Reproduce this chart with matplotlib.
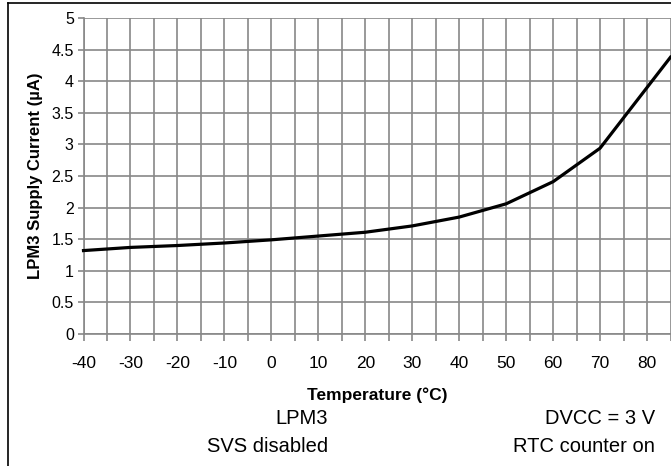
import matplotlib
matplotlib.use('Agg')
import matplotlib.pyplot as plt
from matplotlib.lines import Line2D

plt.rcParams['font.family'] = ['Liberation Sans', 'DejaVu Sans']
plt.rcParams['axes.unicode_minus'] = False

# LPM3 supply current vs temperature
temperature = [-40, -30, -20, -10, 0, 10, 20, 30, 40, 50, 60, 70, 85]
current_ua = [1.32, 1.37, 1.40, 1.44, 1.49, 1.55, 1.61, 1.71, 1.85, 2.06, 2.41, 2.94, 4.38]

x_ticks = list(range(-40, 81, 10))
y_ticks = [0, 0.5, 1, 1.5, 2, 2.5, 3, 3.5, 4, 4.5, 5]
y_labels = ['0', '0.5', '1', '1.5', '2', '2.5', '3', '3.5', '4', '4.5', '5']

W, H = 671, 466
fig = plt.figure(figsize=(W / 100, H / 100), dpi=100)
ax = fig.add_axes([83.5 / W, 132 / H, 587 / W, 316 / H])

# grid every 5 degC, label every 10
ax.set_xlim(-40, 85)
ax.set_ylim(0, 5)
ax.set_xticks(x_ticks)
ax.set_xticks(range(-35, 86, 10), minor=True)
ax.set_yticks(y_ticks)
ax.set_yticklabels(y_labels)
ax.grid(True, which='both', color='#888888', linewidth=1.2)
ax.set_axisbelow(True)

ax.plot(temperature, current_ua, color='black', linewidth=2.3, clip_on=False, zorder=5)

for s in ['top', 'right']:
    ax.spines[s].set_visible(False)
for s in ['left', 'bottom']:
    ax.spines[s].set_color('#888888')
    ax.spines[s].set_linewidth(1.2)

ax.tick_params(axis='x', which='both', direction='out', length=5, width=1.2,
               color='#888888', labelsize=12.5, pad=11)
ax.tick_params(axis='y', direction='out', length=4, width=1.2,
               color='#888888', labelsize=11.5, pad=3)

ax.set_xlabel('Temperature (°C)', fontsize=12.5, fontweight='bold', labelpad=12)
ax.set_ylabel('LPM3 Supply Current (µA)', fontsize=12, fontweight='bold', labelpad=6)

# notes below the chart
fig.text(328 / W, 1 - 418 / H, 'LPM3', fontsize=14.5, ha='right', va='center')
fig.text(328 / W, 1 - 447 / H, 'SVS disabled', fontsize=14.5, ha='right', va='center')
fig.text(655 / W, 1 - 418 / H, 'DVCC = 3 V', fontsize=14.5, ha='right', va='center')
fig.text(655 / W, 1 - 447 / H, 'RTC counter on', fontsize=14.5, ha='right', va='center')

# outer frame (left and top edges visible)
fig.add_artist(Line2D([8 / W, 8 / W], [0, 1 - 3 / H], color='black', linewidth=1.2))
fig.add_artist(Line2D([8 / W, 1], [1 - 3 / H, 1 - 3 / H], color='black', linewidth=1.2))

fig.savefig('out.png', dpi=100)
